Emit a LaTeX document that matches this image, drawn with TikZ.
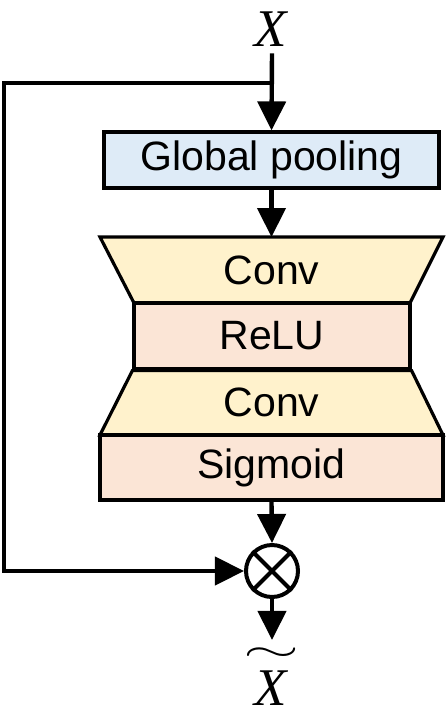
\documentclass[tikz,border=0pt]{standalone}
\usepackage{amsmath}
\usepackage{fontspec}
\setmainfont{Liberation Sans}
\newfontfamily\timesit{Liberation Serif}[ItalicFont=* Italic]
\usetikzlibrary{arrows.meta}
\definecolor{poolblue}{HTML}{DEEBF7}
\definecolor{convyellow}{HTML}{FFF2CC}
\definecolor{actpink}{HTML}{FBE5D6}
\newcommand{\varX}{\hbox{\timesit\itshape X\kern1pt}}

\begin{document}
\begin{tikzpicture}
            [x=0.5pt,y=-0.5pt,
                block/.style={draw,line width=1.6pt,inner sep=0pt,font=\fontsize{20.5}{24}\selectfont},
                label/.style={font=\fontsize{26.5}{30}\selectfont},
                line/.style={line width=2.2pt},
                arr/.style={line width=2.2pt,-{Triangle[length=14.5pt,width=14pt]}}]
            \useasboundingbox (0,0) rectangle (448,720);

            %draw the input, the pooling and the output of the block
            \node[label] (x) at (272,29) {\varX};
            \node[block,fill=poolblue,minimum width=167.5pt,minimum height=28pt] (gp) at (271.5,160) {Global pooling};
            \coordinate (split) at (272,83);
            \coordinate (convin) at (271.5,237);

            %draw the two conv layers and the activations
            \draw[block,fill=convyellow] (100,237) -- (443,237) -- (410,303) -- (134,303) -- cycle;
            \node[block,draw=none] (conva) at (271.5,270) {Conv};
            \node[block,fill=actpink,minimum width=138pt,minimum height=33pt] (relu) at (272,336) {ReLU};
            \draw[block,fill=convyellow] (relu.south west) -- (relu.south east) -- (443,435) -- (100,435) -- cycle;
            \node[block,draw=none] (convb) at (271.5,402) {Conv};
            \node[block,fill=actpink,minimum width=171.5pt,minimum height=32.5pt] (sig) at (271.5,467.5) {Sigmoid};

            %draw the product and the result
            \node[draw,circle,line width=2pt,minimum size=26pt,inner sep=0pt] (mul) at (272,571) {};
            \draw[line width=2pt] (mul.north east) -- (mul.south west);
            \draw[line width=2pt] (mul.north west) -- (mul.south east);
            \node[label,inner sep=1pt] (xt) at (272,674) {$\overset{\scalebox{1.45}[0.75]{$\sim$}}{\varX}$};

            %draw the connections
            \draw[arr] (x.south) -- (gp.north);
            \draw[arr] (split) -- (4,83) |- (mul.west);
            \draw[arr] (gp.south) -- (convin);
            \draw[arr] (sig.south) -- (mul.north);
            \draw[arr] (mul.south) -- (xt.north);
        \end{tikzpicture}
\end{document}
